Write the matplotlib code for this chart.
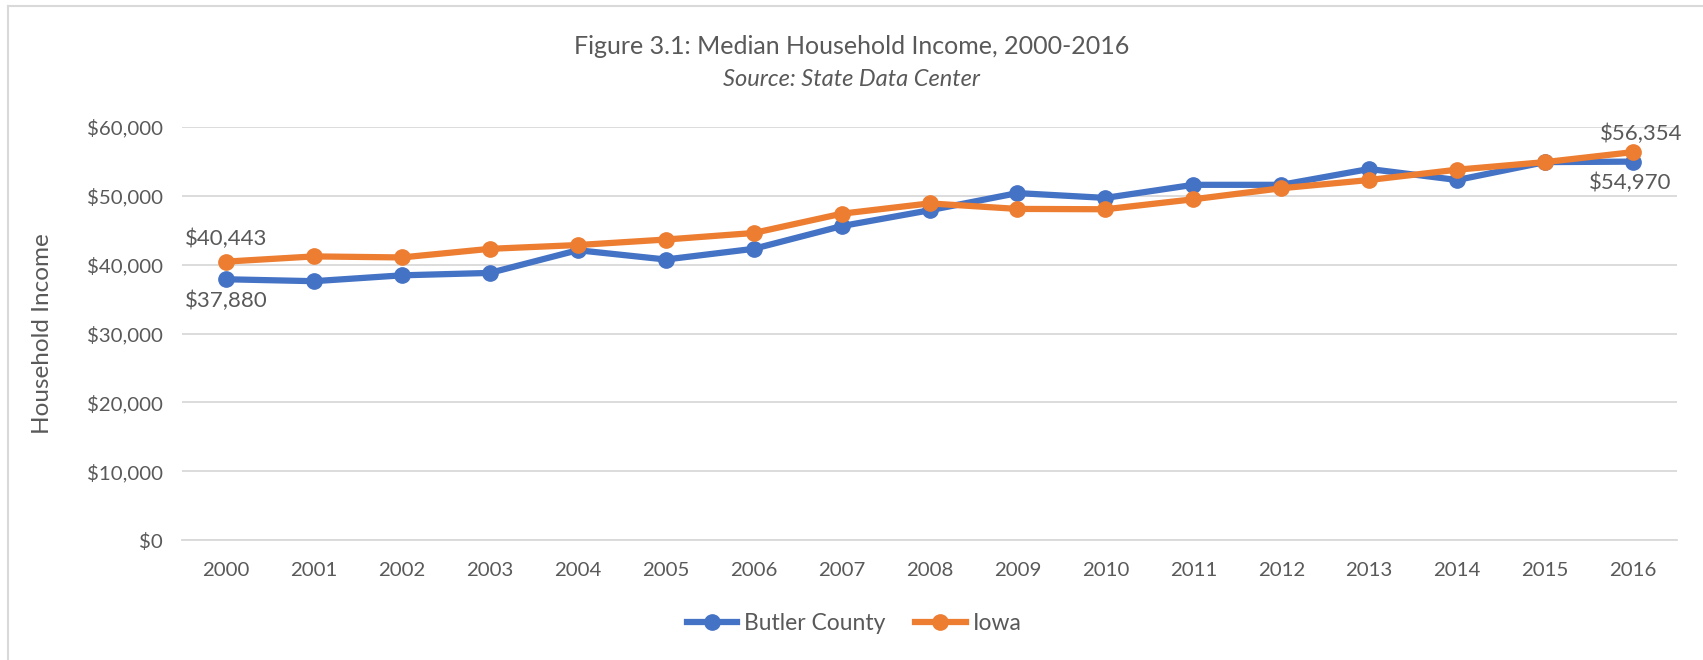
import matplotlib
matplotlib.use("Agg")
import matplotlib.pyplot as plt
from matplotlib.lines import Line2D
from matplotlib.ticker import FuncFormatter

years = [str(y) for y in range(2000, 2017)]
butler = [37880, 37600, 38450, 38800, 42100, 40750, 42300, 45600, 47900,
          50400, 49700, 51600, 51600, 53900, 52300, 54900, 54970]
iowa = [40443, 41200, 41050, 42300, 42850, 43650, 44600, 47400, 48900,
        48100, 48050, 49500, 51100, 52300, 53800, 54900, 56354]

title = "Figure 3.1: Median Household Income, 2000-2016"
subtitle = "Source: State Data Center"
ylabel = "Household Income"
series_names = ["Butler County", "Iowa"]
yticks = [0, 10000, 20000, 30000, 40000, 50000, 60000]

BLUE = "#4472C4"
ORANGE = "#ED7D31"
TXT = "#595959"
GRID = "#D9D9D9"

plt.rcParams['font.family'] = ['Lato', 'DejaVu Sans']

W, H = 1703, 660
fig = plt.figure(figsize=(W / 100, H / 100), dpi=100)

def fx(px):
    return px / W

def fy(py):
    return 1 - py / H

AX_L, AX_R = 182, 1677
ax = fig.add_axes([fx(AX_L), fy(540), fx(AX_R) - fx(AX_L), fy(127) - fy(540)])
x = list(range(len(years)))
ax.plot(x, butler, color=BLUE, lw=4.5, marker='o', ms=11, zorder=3,
        solid_capstyle='round', solid_joinstyle='round')
ax.plot(x, iowa, color=ORANGE, lw=4.5, marker='o', ms=11, zorder=4,
        solid_capstyle='round', solid_joinstyle='round')

ax.set_xlim(-0.5, len(years) - 0.5)
ax.set_ylim(0, 60000)
ax.set_yticks(yticks)
ax.yaxis.set_major_formatter(FuncFormatter(lambda v, p: "${:,.0f}".format(v)))
ax.set_xticks(x)
ax.set_xticklabels(years)
ax.grid(axis='y', color=GRID, lw=1.3)
ax.set_axisbelow(True)
for s in ['top', 'right', 'left']:
    ax.spines[s].set_visible(False)
ax.spines['bottom'].set_color(GRID)
ax.spines['bottom'].set_linewidth(1.3)
ax.tick_params(axis='both', length=0, colors=TXT, labelsize=14.7)
ax.tick_params(axis='y', pad=14)
ax.tick_params(axis='x', pad=16)
ax.set_ylabel(ylabel, color=TXT, fontsize=17.5, va='center', ha='center')
ax.yaxis.set_label_coords((43 - AX_L) / (AX_R - AX_L), 0.5)

# data labels
lab_kw = dict(color=TXT, fontsize=16, clip_on=False)
ax.annotate("${:,.0f}".format(iowa[0]), (x[0], iowa[0]), xytext=(0, 9),
            textcoords='offset points', ha='center', va='bottom', **lab_kw)
ax.annotate("${:,.0f}".format(butler[0]), (x[0], butler[0]), xytext=(0, -8),
            textcoords='offset points', ha='center', va='top', **lab_kw)
ax.annotate("${:,.0f}".format(iowa[-1]), (x[-1], iowa[-1]), xytext=(6, 6),
            textcoords='offset points', ha='center', va='bottom', **lab_kw)
ax.annotate("${:,.0f}".format(butler[-1]), (x[-1], butler[-1]), xytext=(-2, -8),
            textcoords='offset points', ha='center', va='top', **lab_kw)

fig.text(0.5, fy(46), title, ha='center', va='center', color=TXT, fontsize=18)
fig.text(0.5, fy(79), subtitle, ha='center', va='center', color=TXT, fontsize=17,
         style='italic')

handles = [Line2D([], [], color=BLUE, lw=4.5, marker='o', ms=11),
           Line2D([], [], color=ORANGE, lw=4.5, marker='o', ms=11)]
fig.legend(handles, series_names, loc='center', bbox_to_anchor=(fx(854), fy(624)),
           ncol=2, frameon=False, fontsize=16.5, labelcolor=TXT,
           handlelength=2.2, columnspacing=1.3, handletextpad=0.3)

# chart area border (top & left visible)
fig.add_artist(Line2D([fx(8), 1], [fy(5.5), fy(5.5)], color=GRID, lw=1.5))
fig.add_artist(Line2D([fx(8), fx(8)], [fy(5.5), 0], color=GRID, lw=1.5))

fig.savefig("out.png", dpi=100, facecolor='white')
